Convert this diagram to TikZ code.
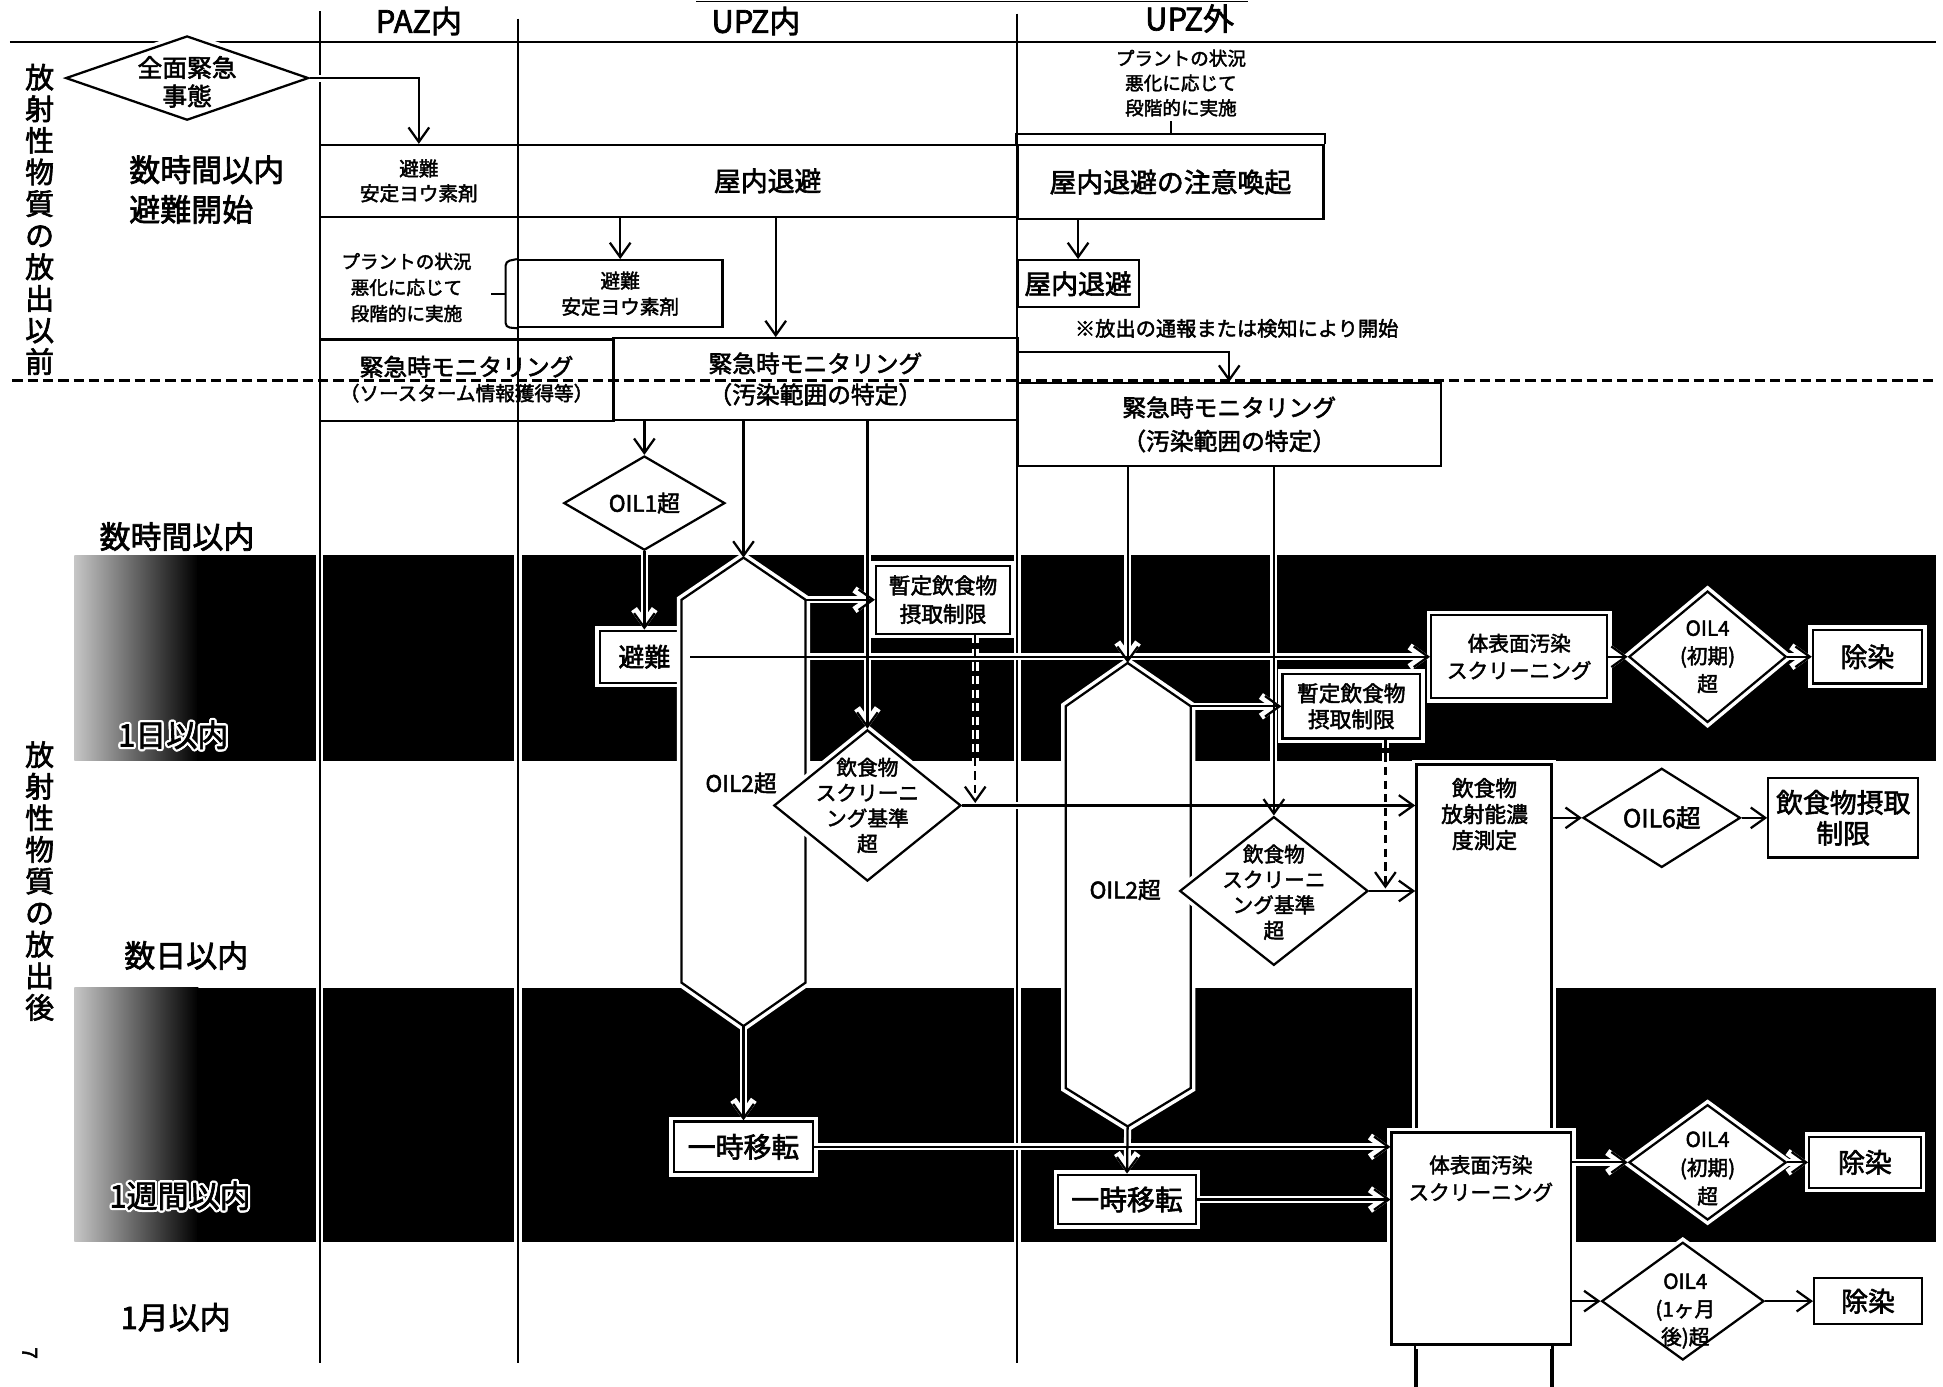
\documentclass[tikz,border=0pt]{standalone}
\usepackage{fontspec}
\setmainfont{Noto Sans CJK JP}[RawFeature={embolden=2.2}]
\usetikzlibrary{shapes.geometric,arrows.meta}
\pgfdeclarelayer{bandlayer}
\pgfdeclarelayer{halolayer}
\pgfsetlayers{bandlayer,halolayer,main}
\newcommand\allconns[1]{%
  \draw[#1] (dEmerg.east) -| (c1.north);
  \draw[#1] (b2.north |- c2.south) -- (b2.north);
  \draw[#1] (xa |- c2.south) -- (xa |- m2.north);
  \draw[#1] (c3.south -| b3.north) -- (b3.north);
  \draw[#1] (dOIL1.north |- m2.south) -- (dOIL1.north);
  \draw[#1] (dOIL1.south) -- (bHin.north);
  \draw[#1] (h1top |- m2.south) -- (h1top);
  \draw[#1] (dScr1.north |- m2.south) -- (dScr1.north);
  \draw[#1] (h1r) -- (bZ1.west |- h1r);
  \draw[#1,dash pattern=on 4pt off 2.6pt] (dsh1 |- bZ1.south) -- (dsh1);
  \draw[#1] (dScr1.east) -- (dScr1.east -| T.west);
  \draw[#1] (bHin.east) -- (bHin.east -| S1.west);
  \draw[#1] (h1bot) -- (bR1.north);
  \draw[#1] (bR1.east) -- (bR1.east -| S2.west);
  \draw[#1] (h2top |- m3.south) -- (h2top);
  \draw[#1] (dScr2.north |- m3.south) -- (dScr2.north);
  \draw[#1] (h2r) -- (bZ2.west |- h2r);
  \draw[#1,dash pattern=on 4pt off 2.6pt] (dsh2 |- bZ2.south) -- (dsh2);
  \draw[#1] (dScr2.east) -- (dScr2.east -| T.west);
  \draw[#1] (h2bot) -- (bR2.north);
  \draw[#1] (bR2.east) -- (bR2.east -| S2.west);
  \draw[#1] (S1.east) -- (dO4a.west);
  \draw[#1] (dO4a.east) -- (Jo1.west);
  \draw[#1] (T.east |- dO6.west) -- (dO6.west);
  \draw[#1] (dO6.east) -- (F.west);
  \draw[#1] (S2.east |- dO4b.west) -- (dO4b.west);
  \draw[#1] (dO4b.east) -- (Jo2.west);
  \draw[#1] (S2.east |- dO4c.west) -- (dO4c.west);
  \draw[#1] (dO4c.east) -- (Jo3.west);
}
\begin{document}
\begin{tikzpicture}[x=0.6pt,y=-0.6pt,
  fs/.style 2 args={font=\fontsize{#1}{#2}\selectfont},
  wh/.style 2 args={minimum width=#1*0.6pt,minimum height=#2*0.6pt},
  box/.style={rectangle,draw,line width=1.1pt,inner sep=0pt,align=center},
  shp/.style={draw,line width=1.1pt,fill=white,preaction={draw=white,line width=4.5pt}},
  dia/.style={diamond,inner sep=0pt,shp},
  rbox/.style={rectangle,inner sep=0pt,align=center,shp},
  txt/.style={align=center,inner sep=0pt},
  conn/.style={draw=black,line width=1.1pt,-{Straight Barb[length=7pt,width=10pt]}},
  halo/.style={draw=white,line width=3.4pt,-{Straight Barb[length=7pt,width=10pt]}},
  lane/.style={line width=1pt},
  plain/.style={line width=1pt}]
\useasboundingbox (0,0) rectangle (1568,1119);

% ---------- background, bands, lanes, header lines
\begin{pgfonlayer}{bandlayer}
\fill[white] (0,0) rectangle (1568,1119);
\shade[left color=gray!45,right color=black] (60,448) rectangle (160,614);
\fill[black] (159,448) rectangle (1562,614);
\shade[left color=gray!45,right color=black] (60,797) rectangle (160,1002);
\fill[black] (159,797) rectangle (1562,1002);
\foreach \x/\t in {258/9,418/15,821/11}{
  \draw[white,line width=3.6pt] (\x,\t) -- (\x,1100);
  \draw[lane] (\x,\t) -- (\x,1100);}
\draw[line width=1.2pt] (8,34) -- (1562,34);
\draw[line width=0.6pt] (562,1) -- (1007,1);
\end{pgfonlayer}

% ---------- coordinates
\coordinate (xa) at (626,0);
\coordinate (s3) at (821,284);
\coordinate (h1top) at (600,450);
\coordinate (h1r) at (650,484);
\coordinate (h1bot) at (600,828);
\coordinate (h2top) at (910,535);
\coordinate (h2r) at (961,570);
\coordinate (h2bot) at (910,909);
\coordinate (dsh1) at (787,648);
\coordinate (dsh2) at (1118,717);
\coordinate (bk) at (945,108);
\coordinate (bkt) at (945,98);
\coordinate (brt) at (408,211);
\coordinate (brm) at (408,237);
\coordinate (brb) at (408,264);
\coordinate (brk) at (396,237);

% ---------- header texts
\node[txt,fs={15}{18}] (hPAZ) at (338,17) {PAZ内};
\node[txt,fs={15}{18}] (hUin) at (610,17) {UPZ内};
\node[txt,fs={15}{18}] (hUout) at (960,15) {UPZ外};

% ---------- left labels
\node[txt,fs={14}{15.3}] (vl1) at (32,177) {放\\射\\性\\物\\質\\の\\放\\出\\以\\前};
\node[txt,fs={14}{15.3}] (vl2) at (32,711) {放\\射\\性\\物\\質\\の\\放\\出\\後};
\node[txt,fs={15}{19.2},anchor=west,align=left] (t1) at (104,153) {数時間以内\\避難開始};
\node[txt,fs={15}{18},anchor=west] (t2) at (80,433) {数時間以内};
\node[txt,fs={15}{18},anchor=west] (t3) at (100,771) {数日以内};
\node[txt,fs={15}{18},anchor=west] (t4) at (97,1063) {1月以内};
\foreach \a in {0,30,...,330}{
  \node[txt,fs={15}{18},anchor=west,white,shift={(\a:1.1pt)}] at (95,593) {1日以内};
  \node[txt,fs={15}{18},anchor=west,white,shift={(\a:1.1pt)}] at (88,965) {1週間以内};}
\node[txt,fs={15}{18},anchor=west] (t5) at (95,593) {1日以内};
\node[txt,fs={15}{18},anchor=west] (t6) at (88,965) {1週間以内};
\node[txt,fs={10}{12},rotate=-90] (pg) at (24,1092) {7};

% ---------- top section boxes
\node[dia,wh={196}{68}] (dEmerg) at (151,63) {};
\node[txt,fs={12}{13.8}] at (151,66) {全面緊急\\事態};
\node[box,wh={160}{58},fs={9.5}{12}] (c1) at (338,146) {避難\\安定ヨウ素剤};
\node[box,wh={403}{58},fs={13}{15}] (c2) at (619.5,146) {屋内退避};
\node[box,wh={247}{60},fs={13}{15}] (c3) at (944.5,147) {屋内退避の注意喚起};
\draw[plain] (c3.north west) |- (bk) -| (c3.north east);
\draw[plain] (bk) -- (bkt);
\node[txt,fs={9}{12}] (n1) at (953,67) {プラントの状況\\悪化に応じて\\段階的に実施};
\node[box,wh={165}{54},fs={9.5}{12.6}] (b2) at (500.5,237) {避難\\安定ヨウ素剤};
\draw[plain,rounded corners=2pt] (b2.north west) -- (brt) -- (brb) -- (b2.south west);
\draw[plain] (brm) -- (brk);
\node[txt,fs={9}{12.6}] (n2) at (328,232) {プラントの状況\\悪化に応じて\\段階的に実施};
\node[box,wh={98}{38},fs={13}{15}] (b3) at (870,229) {屋内退避};
\node[txt,fs={9.8}{12}] (n3) at (998,265) {※放出の通報または検知により開始};
\node[box,wh={237}{66}] (m1) at (376.5,307) {};
\node[txt] at (376.5,306) {\fontsize{11.5}{13.2}\selectfont 緊急時モニタリング\\\fontsize{9.5}{13.2}\selectfont （ソースターム情報獲得等）};
\node[box,wh={326}{66},fs={11.5}{15}] (m2) at (658,306) {緊急時モニタリング\\（汚染範囲の特定）};
\node[box,wh={342}{67},fs={11.5}{16.2}] (m3) at (992,342.5) {緊急時モニタリング\\（汚染範囲の特定）};

% ---------- middle shapes
\node[dia,wh={130}{76}] (dOIL1) at (520,406) {};
\node[txt,fs={11}{13}] at (520,406) {OIL1超};
\node[rbox,wh={72}{42},fs={12.5}{14}] (bHin) at (520,530) {避難};
\draw[shp] (h1top) -- (h1r) -- (650,793) -- (h1bot) -- (550,793) -- (550,484) -- cycle;
\node[txt,fs={11}{13}] at (598,632) {OIL2超};
\node[rbox,wh={108}{55},fs={10.5}{13.8}] (bZ1) at (761,484) {暫定飲食物\\摂取制限};
\node[dia,wh={151}{122}] (dScr1) at (700,650) {};
\node[txt,fs={10}{12.3}] at (700,650) {飲食物\\スクリーニ\\ング基準\\超};
\node[rbox,wh={112}{41},fs={13.5}{15}] (bR1) at (600,925.5) {一時移転};

\draw[shp] (h2top) -- (h2r) -- (961,878) -- (h2bot) -- (860,878) -- (860,570) -- cycle;
\node[txt,fs={11}{13}] at (908,718) {OIL2超};
\node[rbox,wh={111}{52},fs={10.5}{12.6}] (bZ2) at (1090.5,570) {暫定飲食物\\摂取制限};
\node[dia,wh={152}{120}] (dScr2) at (1028,719) {};
\node[txt,fs={10}{12.3}] at (1028,720) {飲食物\\スクリーニ\\ング基準\\超};
\node[rbox,wh={111}{40},fs={13.5}{15}] (bR2) at (909.5,968) {一時移転};

% ---------- right side
\node[rbox,wh={142}{67},fs={10}{13.2}] (S1) at (1226,530) {体表面汚染\\スクリーニング};
\node[dia,wh={127}{106}] (dO4a) at (1378,530) {};
\node[txt,fs={10}{13.5}] at (1378,530) {OIL4\\(初期)\\超};
\node[rbox,wh={88}{43},fs={13}{15}] (Jo1) at (1507,530) {除染};
\node[rbox,wh={109}{508}] (T) at (1197.5,871) {};
\node[txt,fs={10.5}{12.6}] at (1198,657) {飲食物\\放射能濃\\度測定};
\node[dia,wh={127}{80}] (dO6) at (1341,660) {};
\node[txt,fs={12}{14}] at (1341,660) {OIL6超};
\node[rbox,wh={121}{64},fs={13}{15}] (F) at (1487.5,660) {飲食物摂取\\制限};
\node[rbox,wh={145}{171}] (S2) at (1195.5,999.5) {};
\draw[line width=1.1pt] (S2.south -| T.west) -- (T.south west);
\draw[line width=1.1pt] (S2.south -| T.east) -- (T.south east);
\node[txt,fs={10}{13.2}] at (1195,951) {体表面汚染\\スクリーニング};
\node[dia,wh={127}{93}] (dO4b) at (1378,938) {};
\node[txt,fs={10}{13.8}] at (1378,943) {OIL4\\(初期)\\超};
\node[rbox,wh={90}{41},fs={13}{15}] (Jo2) at (1505,938) {除染};
\node[dia,wh={131}{95}] (dO4c) at (1358,1050) {};
\node[txt,fs={10}{13.5}] at (1360,1058) {OIL4\\(1ヶ月\\後)超};
\node[rbox,wh={87}{37},fs={13}{15}] (Jo3) at (1507.5,1050) {除染};

% ---------- connectors
\begin{pgfonlayer}{halolayer}
\allconns{halo}
\end{pgfonlayer}
\allconns{conn}
\draw[conn] (s3) -| (m3.north);

% ---------- dashed separator
\draw[line width=1.1pt,dash pattern=on 5pt off 2.4pt] (10,307) -- (1562,307);
\end{tikzpicture}
\end{document}
